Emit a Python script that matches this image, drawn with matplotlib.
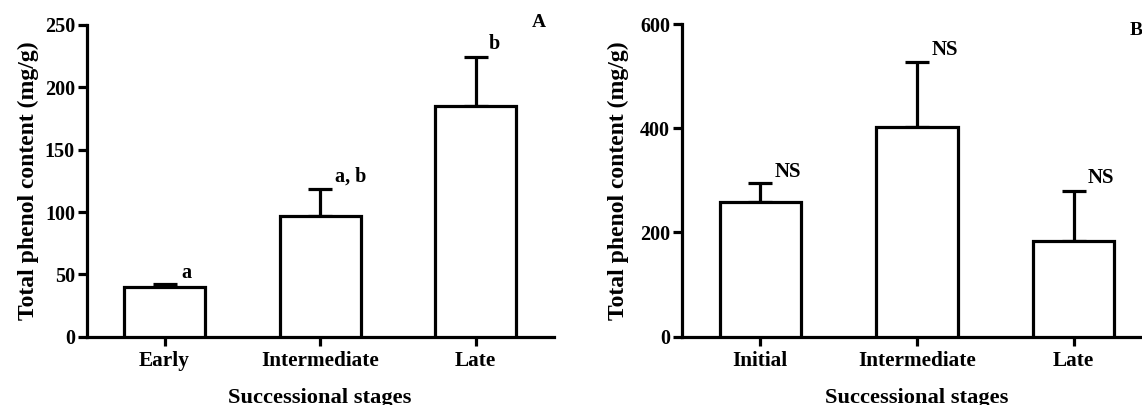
import matplotlib
matplotlib.use("Agg")
import matplotlib.pyplot as plt
import numpy as np

plt.rcParams['font.family'] = ['Liberation Serif', 'DejaVu Serif']
plt.rcParams['font.weight'] = 'bold'

# Panel A data
cats_a = ["Early", "Intermediate", "Late"]
vals_a = [40.1, 96.8, 185.0]
err_a = [2.3, 21.7, 39.1]
sig_a = ["a", "a, b", "b"]
yticks_a = [0, 50, 100, 150, 200, 250]

# Panel B data
cats_b = ["Initial", "Intermediate", "Late"]
vals_b = [258.0, 403.0, 183.0]
err_b = [36.0, 125.0, 97.0]
sig_b = ["NS", "NS", "NS"]
yticks_b = [0, 200, 400, 600]

W, H = 1142, 405
fig = plt.figure(figsize=(W / 100, H / 100), dpi=100)
fig.patch.set_facecolor('white')

axA = fig.add_axes([86.7 / W, 68.3 / H, 466.8 / W, 311.7 / H])
axB = fig.add_axes([682.0 / W, 68.3 / H, 470.0 / W, 312.7 / H])

LW = 2.3


def draw(ax, cats, vals, errs, sigs, yticks, ymax, sig_x, sig_y, panel, panel_xy,
         ylabel_x, fs_sig):
    x = np.arange(len(cats))
    ax.bar(x, vals, width=0.52, color='white', edgecolor='black', linewidth=LW, zorder=3)
    ax.errorbar(x, vals, yerr=[np.zeros(len(vals)), errs], fmt='none', ecolor='black',
                elinewidth=LW, capsize=8.3, capthick=LW, zorder=2)
    ax.set_xlim(-0.5, 2.5)
    ax.set_ylim(0, ymax)
    ax.set_xticks(x)
    ax.set_xticklabels(cats)
    ax.set_yticks(yticks)
    for s in ['top', 'right']:
        ax.spines[s].set_visible(False)
    for s in ['left', 'bottom']:
        ax.spines[s].set_linewidth(LW)
    ax.tick_params(axis='both', direction='out', length=6.5, width=LW, pad=2)
    ax.tick_params(axis='y', labelsize=14.5)
    ax.tick_params(axis='x', labelsize=15.3, pad=4)
    for xs, s, yy in zip(sig_x, sigs, sig_y):
        ax.text(xs, yy, s, ha='center', va='baseline', fontsize=fs_sig,
                fontweight='bold')
    ax.text(panel_xy[0], panel_xy[1], panel, ha='center', va='baseline', fontsize=14,
            fontweight='bold')
    ax.set_ylabel("Total phenol content (mg/g)", fontsize=17, fontweight='bold')
    ax.yaxis.set_label_coords(ylabel_x, 0.5)
    ax.set_xlabel("Successional stages", fontsize=16.2, fontweight='bold')
    ax.xaxis.set_label_coords(0.5, -0.165)
    ax.xaxis.label.set_va('top')


draw(axA, cats_a, vals_a, err_a, sig_a, yticks_a, 250, [0.139, 1.196, 2.119],
     [46.8, 124.3, 230.5], "A", (2.406, 248.6), -0.103, 14.5)
draw(axB, cats_b, vals_b, err_b, sig_b, yticks_b, 600, [0.175, 1.179, 2.174],
     [307.0, 540.6, 294.3], "B", (2.40, 578.9), -0.112, 15)

fig.savefig("out.png", dpi=100, facecolor='white')
